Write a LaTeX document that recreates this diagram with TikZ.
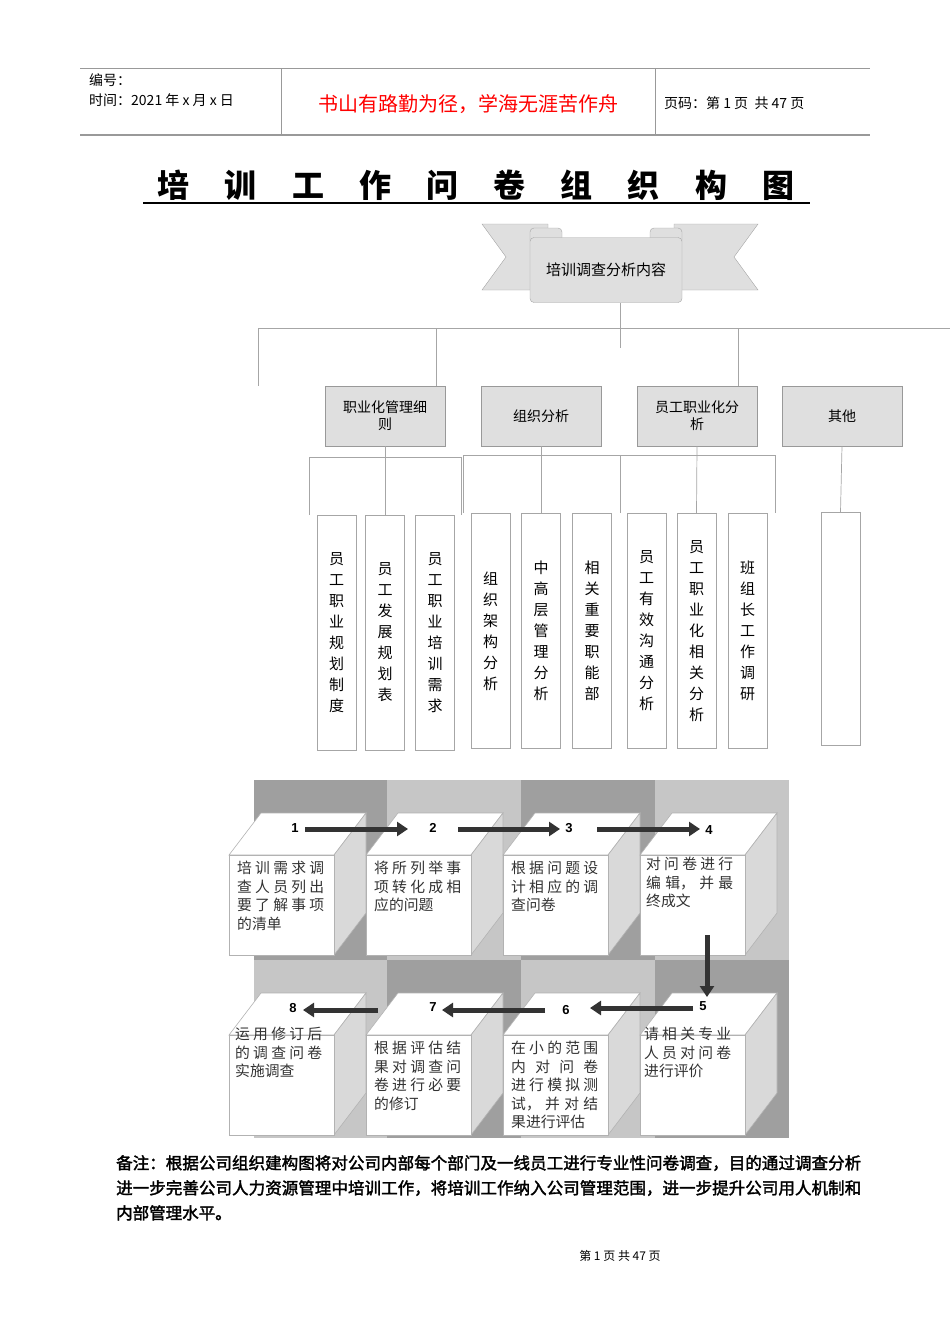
\documentclass[tikz,border=0pt]{standalone}
\usepackage{fontspec}
\setmainfont{Liberation Sans}
\newfontfamily\cjk{Noto Sans CJK SC}
\newfontfamily\cjkb{Noto Sans CJK SC}[FakeBold=2]
\XeTeXlinebreaklocale "zh"
\XeTeXlinebreakskip=0pt plus 4pt
\usetikzlibrary{arrows.meta}
\begin{document}
\begin{tikzpicture}[x=1pt,y=-1pt,
  box/.style={draw=gray!80,fill=gray!25,minimum width=120pt,minimum height=60pt,align=center,font=\cjk\fontsize{14}{17}\selectfont,inner sep=2pt},
  leaf/.style={draw=gray!70,fill=white,minimum width=39pt,minimum height=235pt,align=center,font=\cjk\fontsize{15}{21}\selectfont,inner sep=0pt},
  ln/.style={draw=gray!70,line width=0.7pt},
  face/.style={draw=gray!60,line width=0.6pt},
  ctext/.style={anchor=north west,text width=87pt,align=justify,font=\cjk\fontsize{14.8}{18.5}\selectfont,text=black!80,inner sep=0pt},
  num/.style={font=\bfseries\fontsize{13}{13}\selectfont,inner sep=0pt},
  arr/.style={line width=5pt,draw=black!80,-{Triangle[length=11pt,width=14pt]}}]
\useasboundingbox (0,0) rectangle (950,1344);
% header
\draw[gray!80,line width=1pt] (80,68) -- (870,68);
\draw[gray!80,line width=1.3pt] (80,135) -- (870,135);
\draw[gray!80,line width=0.8pt] (281,68) -- (281,135) (655,68) -- (655,135);
\node[anchor=west,font=\cjk\fontsize{14}{14}\selectfont,inner sep=0] (h1) at (89,80) {编号：};
\node[anchor=west,font=\cjk\fontsize{14}{14}\selectfont,inner sep=0] (h2) at (89,100) {时间：2021 年 x 月 x 日};
\node[font=\cjk\fontsize{20}{20}\selectfont,text=red,inner sep=0] (h3) at (468,104) {书山有路勤为径，学海无涯苦作舟};
\node[anchor=west,font=\cjk\fontsize{14}{14}\selectfont,inner sep=0] (h4) at (664,103) {页码：第 1 页\ \ 共 47 页};
% title
\node[font=\cjk\fontsize{32}{32}\selectfont\bfseries,inner sep=0] (title) at (476,185) {培\hspace{1.1em}训\hspace{1.1em}工\hspace{1.1em}作\hspace{1.1em}问\hspace{1.1em}卷\hspace{1.1em}组\hspace{1.1em}织\hspace{1.1em}构\hspace{1.1em}图};
\draw[line width=1.5pt] (143,203) -- (810,203);
% banner
\draw[gray!70,fill=gray!25] (482,224) -- (548,224) -- (548,290) -- (482,290) -- (506,257) -- cycle;
\draw[gray!70,fill=gray!25] (758,224) -- (674,224) -- (674,290) -- (758,290) -- (734,257) -- cycle;
\draw[gray!70,fill=gray!25,rounded corners=4pt] (530,244) rectangle (562,228);
\draw[gray!70,fill=gray!25,rounded corners=4pt] (650,244) rectangle (682,228);
\node[draw=gray!70,fill=gray!25,rounded corners=4pt,minimum width=152pt,minimum height=65pt,font=\cjk\fontsize{15}{15}\selectfont] (root) at (606,270) {培训调查分析内容};
% level 1 lines
\draw[ln] (258,328) -- (950,328);
\draw[ln] (620,303) -- (620,348);
\draw[ln] (258,328) -- (258,386);
\node[box] (b1) at (385,416) {职业化管理细\\则};
\node[box] (b2) at (541,416) {组织分析};
\node[box] (b3) at (697,416) {员工职业化分\\析};
\node[box] (b4) at (842,416) {其他};
\draw[ln] (436,328) -- (436,386);
\draw[ln] (738,328) -- (738,386);
% leaves
\node[leaf] (l1) at (336.5,632.5) {员\\工\\职\\业\\规\\划\\制\\度};
\node[leaf] (l2) at (385,632.5) {员\\工\\发\\展\\规\\划\\表};
\node[leaf] (l3) at (435,632.5) {员\\工\\职\\业\\培\\训\\需\\求};
\node[leaf] (l4) at (490.5,631) {组\\织\\架\\构\\分\\析};
\node[leaf] (l5) at (541,631) {中\\高\\层\\管\\理\\分\\析};
\node[leaf] (l6) at (592,631) {相\\关\\重\\要\\职\\能\\部};
\node[leaf] (l7) at (646.5,631) {员\\工\\有\\效\\沟\\通\\分\\析};
\node[leaf] (l8) at (696.5,631) {员\\工\\职\\业\\化\\相\\关\\分\\析};
\node[leaf] (l9) at (747.5,631) {班\\组\\长\\工\\作\\调\\研};
\node[leaf,minimum height=233pt] (l10) at (840.5,628.5) {};
% level 2 lines
\draw[ln] (309,515) -- (309,457) -- (461,457) -- (461,515);
\draw[ln] (b1.south) -- (l2.north);
\draw[ln] (463,513) -- (463,455) -- (775,455) -- (775,513);
\draw[ln] (620,455) -- (620,513);
\draw[ln] (b2.south) -- (l5.north);
\draw[ln] (b3.south) -- (l8.north);
\draw[ln] (b4.south) -- (l10.north);
% process background
\fill[gray!75] (254,780) rectangle (387,960);
\fill[gray!45] (387,780) rectangle (521,960);
\fill[gray!75] (521,780) rectangle (655,960);
\fill[gray!45] (655,780) rectangle (789,960);
\fill[gray!45] (254,960) rectangle (387,1138);
\fill[gray!75] (387,960) rectangle (521,1138);
\fill[gray!45] (521,960) rectangle (655,1138);
\fill[gray!75] (655,960) rectangle (789,1138);
% cubes
\foreach \n/\x/\y in {c1/229/855,c2/366/855,c3/503/855,c4/640/855,c8/229/1035,c7/366/1035,c6/503/1035,c5/640/1035}{
  \draw[face,fill=white] (\x,\y) -- (\x+32,\y-42) -- (\x+137,\y-42) -- (\x+105,\y) -- cycle;
  \draw[face,fill=gray!30] (\x+105,\y) -- (\x+137,\y-42) -- (\x+137,\y+58) -- (\x+105,\y+100) -- cycle;
  \draw[face,fill=white] (\x,\y) rectangle (\x+105,\y+100);
  \coordinate (\n) at (\x+8,\y+6);
}
\node[ctext] (t1) at (c1) {培训需求调查人员列出要了解事项的清单};
\node[ctext] (t2) at (c2) {将所列举事项转化成相应的问题};
\node[ctext] (t3) at (c3) {根据问题设计相应的调查问卷};
\node[ctext] (t4) at (646,857) {对问卷进行编辑，并最终成文};
\node[ctext] (t5) at (644,1027) {请相关专业人员对问卷进行评价};
\node[ctext] (t6) at (c6) {在小的范围内对问卷进行模拟测试，并对结果进行评估};
\node[ctext] (t7) at (c7) {根据评估结果对调查问卷进行必要的修订};
\node[ctext] (t8) at (235,1027) {运用修订后的调查问卷实施调查};
\node[num] (n1) at (295,828) {1};
\node[num] (n2) at (433,828) {2};
\node[num] (n3) at (569,828) {3};
\node[num] (n4) at (709,830) {4};
\node[num] (n5) at (703,1006) {5};
\node[num] (n6) at (566,1010) {6};
\node[num] (n7) at (433,1007) {7};
\node[num] (n8) at (293,1008) {8};
\coordinate (a1s) at (305,829); \coordinate (a1e) at (408,829);
\coordinate (a2s) at (458,829); \coordinate (a2e) at (560,829);
\coordinate (a3s) at (597,829); \coordinate (a3e) at (700,829);
\coordinate (a4s) at (707,935); \coordinate (a4e) at (707,997);
\coordinate (a5s) at (693,1008); \coordinate (a5e) at (590,1008);
\coordinate (a6s) at (545,1010); \coordinate (a6e) at (442,1010);
\coordinate (a7s) at (378,1010); \coordinate (a7e) at (303,1010);
\foreach \i in {1,...,7}{\draw[arr] (a\i s) -- (a\i e);}
% remark
\node[anchor=north west,text width=745pt,align=justify,font=\cjkb\fontsize{16.5}{25}\selectfont,inner sep=0] (rm) at (116,1155) {备注：根据公司组织建构图将对公司内部每个部门及一线员工进行专业性问卷调查，目的通过调查分析进一步完善公司人力资源管理中培训工作，将培训工作纳入公司管理范围，进一步提升公司用人机制和内部管理水平。};
\node[font=\cjk\fontsize{12}{12}\selectfont] (ft) at (620,1256) {第\ 1\ 页\ 共\ 47\ 页};
\end{tikzpicture}
\end{document}
